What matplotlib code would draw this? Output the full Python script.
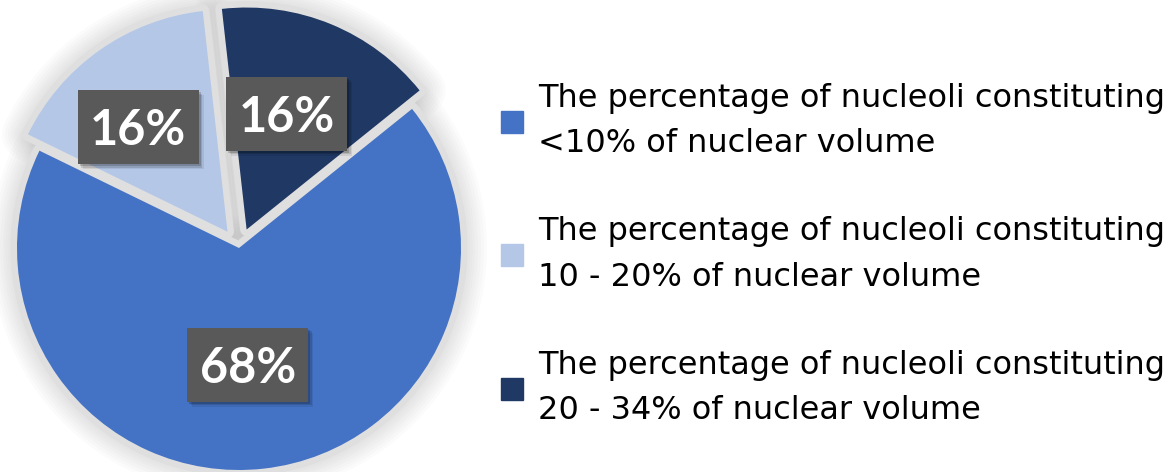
import matplotlib
matplotlib.use("Agg")
import matplotlib.pyplot as plt
from matplotlib.patches import Wedge, Rectangle
from matplotlib.lines import Line2D
import numpy as np

# ---- data ----
categories = [
    "The percentage of nucleoli constituting\n<10% of nuclear volume",
    "The percentage of nucleoli constituting\n10 - 20% of nuclear volume",
    "The percentage of nucleoli constituting\n20 - 34% of nuclear volume",
]
values = [68, 16, 16]
colors = ["#4472C4", "#B4C7E7", "#1F3864"]

# ---- figure ----
W, H = 1175, 472
fig = plt.figure(figsize=(W / 100, H / 100), dpi=100)
fig.patch.set_facecolor("white")

R_PX = 222.0           # pie radius in pixels
CX, CY = 239.0, 224.0  # pie centre in pixels (from left, from bottom)
AX_W = 480.0
ax = fig.add_axes([0, 0, AX_W / W, 1])

wedges, texts, autotexts = ax.pie(
    values,
    colors=colors,
    explode=[0.0, 0.09, 0.09],
    startangle=38.8,
    counterclock=False,
    autopct="%1.0f%%",
    pctdistance=0.6,
    wedgeprops=dict(linewidth=0, zorder=3),
    textprops=dict(color="white"),
)
ax.set_aspect("auto")
ax.set_xlim(-CX / R_PX, (AX_W - CX) / R_PX)
ax.set_ylim(-CY / R_PX, (H - CY) / R_PX)
ax.axis("off")

# soft shadows behind every wedge
for w in wedges:
    for lw_px in [52, 46, 40, 34, 28, 23, 18]:
        ax.add_patch(Wedge(w.center, w.r, w.theta1, w.theta2, facecolor="#999999",
                           edgecolor="#999999", linewidth=lw_px * 0.72, alpha=0.035,
                           joinstyle="round", zorder=1, clip_on=False))
for w in wedges:
    ax.add_patch(Wedge(w.center, w.r, w.theta1, w.theta2, facecolor="#dfdfdf",
                       edgecolor="#dfdfdf", linewidth=13 * 0.72,
                       joinstyle="round", zorder=2, clip_on=False))

# label placement (radius from wedge centre, angular nudge in degrees)
label_r = [0.5285, 0.62, 0.5516]
label_dt = [-2.1, 5.3, 3.2]
box_w, box_h = 121 / R_PX, 74 / R_PX
for w, t, r, dt in zip(wedges, autotexts, label_r, label_dt):
    th = np.deg2rad((w.theta1 + w.theta2) / 2 + dt)
    x = w.center[0] + r * np.cos(th)
    y = w.center[1] + r * np.sin(th)
    # box shadow
    for k, a in [(5, 0.08), (3.5, 0.12), (2, 0.18)]:
        ax.add_patch(Rectangle((x - box_w / 2 + k / R_PX, y - box_h / 2 - k / R_PX),
                               box_w, box_h, facecolor="black", edgecolor="none",
                               alpha=a, zorder=4))
    ax.add_patch(Rectangle((x - box_w / 2, y - box_h / 2), box_w, box_h,
                           facecolor="#595959", edgecolor="none", zorder=5))
    t.set_position((x, y - 18 / R_PX))
    t.set_ha("center")
    t.set_va("baseline")
    t.set_fontfamily("Lato")
    t.set_fontweight("bold")
    t.set_fontsize(35)
    t.set_zorder(6)

# ---- legend ----
handles = [Line2D([], [], marker="s", linestyle="none", markersize=16.5,
                  markerfacecolor=c, markeredgecolor=c) for c in colors]
leg = fig.legend(handles, categories, loc="upper left",
                 bbox_to_anchor=(499 / W, 1 - 83 / H),
                 frameon=False, prop=dict(family="DejaVu Sans", size=23),
                 handlelength=0.8, handletextpad=0.42, labelspacing=1.78,
                 borderpad=0, borderaxespad=0)
for txt in leg.get_texts():
    txt.set_linespacing(1.6)
    txt.set_color("black")

fig.savefig("out.png", dpi=100, facecolor="white")
